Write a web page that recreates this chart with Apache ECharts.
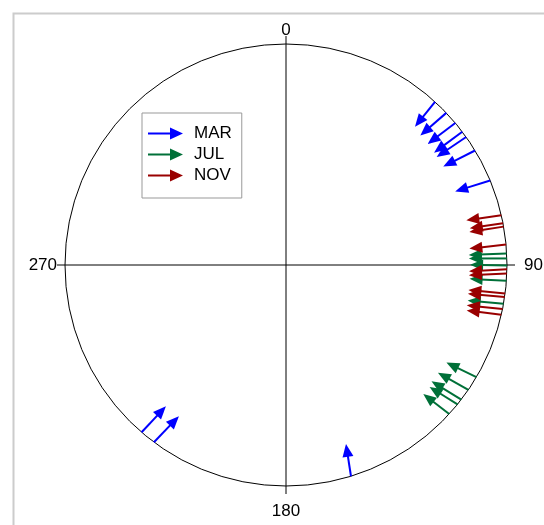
<!DOCTYPE html>
<html>
<head>
<meta charset="utf-8">
<script src="https://cdn.jsdelivr.net/npm/echarts@6/dist/echarts.min.js"></script>
<style>
  html, body { margin: 0; padding: 0; background: #fff; }
  #main { width: 544px; height: 525px; }
</style>
</head>
<body>
<div id="main"></div>
<script>
// position of the arrow tail on the rim (deg, 0 = up, clockwise)
var marAngle = [42.4, 46.5, 50.0, 52.9, 54.6, 58.8, 67.5, 220.8, 216.7, 162.9];
// direction the arrow points to (deg, compass)
var marBearing = [218.7, 228.9, 232.8, 233.4, 235.8, 243.2, 252.6, 43.1, 43.9, 351.2];
// arrow length as a fraction of the radius
var marLength = [0.145, 0.156, 0.157, 0.159, 0.161, 0.161, 0.166, 0.161, 0.163, 0.148];

var julAngle = [87.0, 88.3, 90.1, 94.1, 100.1, 120.5, 124.4, 127.5, 129.1, 132.4];
var julBearing = [267.5, 270, 271, 273, 275, 296, 299.5, 301.4, 302, 307.6];
var julLength = [0.172, 0.172, 0.167, 0.167, 0.163, 0.151, 0.158, 0.158, 0.149, 0.148];

var novAngle = [77.0, 79.1, 80.0, 84.7, 91.1, 92.2, 97.4, 98.3, 101.5, 103.0];
var novBearing = [261.9, 261.5, 261.2, 263.8, 267, 267.5, 275.3, 275, 276, 277];
var novLength = [0.160, 0.152, 0.157, 0.167, 0.172, 0.172, 0.167, 0.167, 0.163, 0.158];

var months = ['MAR', 'JUL', 'NOV'];
var colors = ['#0000ff', '#007038', '#990000'];
var dirTicks = [0, 90, 180, 270];

var legendIcon = 'path://M0,5 L22,5 L22,0 L35,6 L22,12 L22,7 L0,7 Z';

function buildData(angles, bearings, lengths) {
    var out = [];
    for (var i = 0; i < angles.length; i++) {
        out.push([1, angles[i], bearings[i], lengths[i]]);
    }
    return out;
}

// tail on the rim, straight shaft, filled triangular head
function renderArrow(params, api) {
    var pos = api.value(1), dir = api.value(2), len = api.value(3);
    var c = api.coord([0, 0]);
    var p = api.coord([1, pos]);
    var R = Math.sqrt((p[0] - c[0]) * (p[0] - c[0]) + (p[1] - c[1]) * (p[1] - c[1]));
    var a = dir * Math.PI / 180;
    var ux = Math.sin(a), uy = -Math.cos(a);
    var L = len * R;
    var tip = [p[0] + ux * L, p[1] + uy * L];
    var hl = 13, hw = 5.5;
    var base = [tip[0] - ux * hl, tip[1] - uy * hl];
    var color = api.visual('color');
    return {
        type: 'group',
        children: [
            {
                type: 'line',
                shape: { x1: p[0], y1: p[1], x2: base[0] + ux * 2, y2: base[1] + uy * 2 },
                style: { stroke: color, lineWidth: 2 }
            },
            {
                type: 'polygon',
                shape: { points: [tip, [base[0] - uy * hw, base[1] + ux * hw], [base[0] + uy * hw, base[1] - ux * hw]] },
                style: { fill: color }
            }
        ]
    };
}

var seriesData = [
    buildData(marAngle, marBearing, marLength),
    buildData(julAngle, julBearing, julLength),
    buildData(novAngle, novBearing, novLength)
];

var series = [];
for (var k = 0; k < months.length; k++) {
    series.push({
        name: months[k],
        type: 'custom',
        coordinateSystem: 'polar',
        itemStyle: { color: colors[k] },
        renderItem: renderArrow,
        data: seriesData[k]
    });
}

var myChart = echarts.init(document.getElementById('main'));
var option = {
    animation: false,
    backgroundColor: '#fff',
    color: colors,
    graphic: [{
        type: 'rect',
        left: 11,
        top: 11,
        z: -10,
        silent: true,
        shape: { width: 620, height: 620 },
        style: { fill: 'none', stroke: '#cccccc', lineWidth: 2 }
    }],
    polar: {
        center: [286, 265],
        radius: 221
    },
    radiusAxis: {
        type: 'value',
        min: 0,
        max: 1,
        show: false
    },
    angleAxis: {
        type: 'value',
        min: 0,
        max: 360,
        interval: 90,
        startAngle: 90,
        clockwise: true,
        axisLine: { lineStyle: { color: '#000', width: 1 } },
        axisTick: { show: true, length: 8, lineStyle: { color: '#000', width: 1 } },
        splitLine: { show: true, lineStyle: { color: '#000', width: 1 } },
        axisLabel: {
            margin: 5,
            color: '#000',
            fontSize: 17,
            fontFamily: 'Liberation Sans',
            formatter: function (v) {
                if (dirTicks.indexOf(v) < 0) return '';
                if (v === 90) return '{r|90}';
                if (v === 180) return '{b|180}';
                if (v === 270) return '{l|270}';
                return String(v);
            },
            rich: {
                r: { padding: [0, 0, 0, 12], fontSize: 17, color: '#000', fontFamily: 'Liberation Sans' },
                b: { padding: [12, 0, 0, 0], fontSize: 17, color: '#000', fontFamily: 'Liberation Sans' },
                l: { padding: [0, 3, 0, 0], fontSize: 17, color: '#000', fontFamily: 'Liberation Sans' }
            }
        }
    },
    legend: {
        orient: 'vertical',
        left: 142,
        top: 113,
        data: months.map(function (m) { return { name: m, icon: legendIcon }; }),
        itemWidth: 35,
        itemHeight: 12,
        itemGap: 4,
        padding: [12, 10, 14, 6],
        borderColor: '#999',
        borderWidth: 1,
        backgroundColor: '#fff',
        selectedMode: false,
        textStyle: { fontSize: 17, color: '#000', fontFamily: 'Liberation Sans', padding: [0, 0, 0, 6] }
    },
    series: series
};
myChart.setOption(option);
</script>
</body>
</html>
